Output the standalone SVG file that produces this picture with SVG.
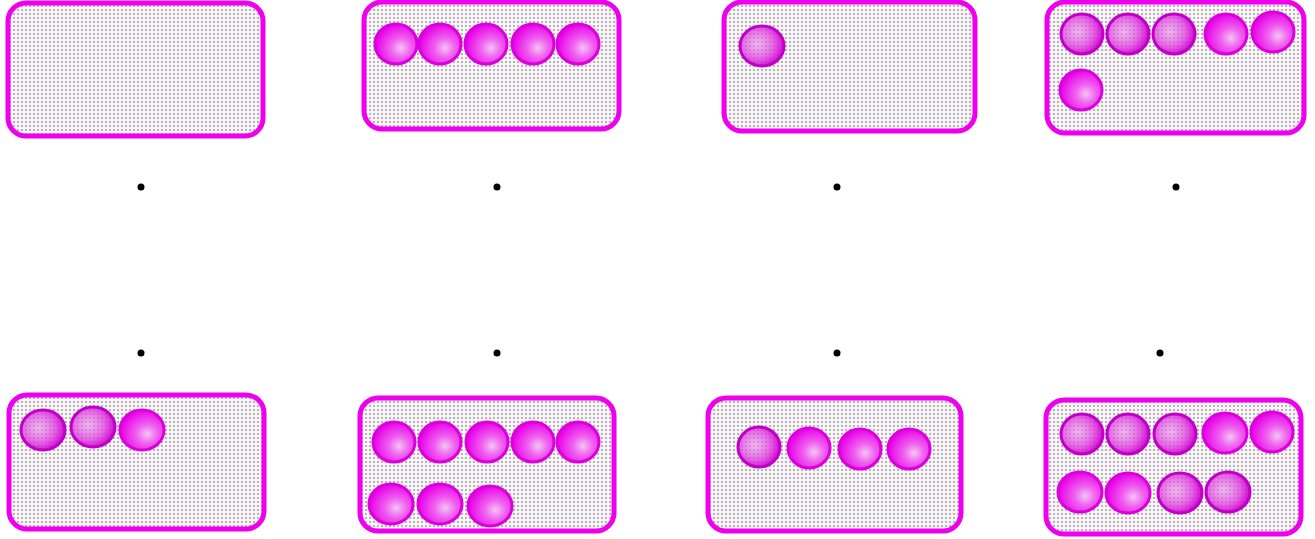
<svg xmlns="http://www.w3.org/2000/svg" width="1315" height="539" viewBox="0 0 1315 539">
<defs>
<pattern id="dots" width="4" height="4" patternUnits="userSpaceOnUse">
<rect width="4" height="4" fill="#f8f4f8"/>
<circle cx="2" cy="2" r="1" fill="#a0a0a0"/>
</pattern>
<radialGradient id="ballg" cx="0.62" cy="0.6" r="0.62">
<stop offset="0" stop-color="#f4c4f4"/>
<stop offset="0.4" stop-color="#f060f0"/>
<stop offset="1" stop-color="#e800e8"/>
</radialGradient>
<radialGradient id="ballh" cx="0.4" cy="0.45" r="0.62">
<stop offset="0" stop-color="#e890e8" stop-opacity="0.6"/>
<stop offset="0.6" stop-color="#e040e0" stop-opacity="0.8"/>
<stop offset="1" stop-color="#d000d0" stop-opacity="1"/>
</radialGradient>
</defs>
<style>
.box{fill:url(#dots);stroke:#ee00ee;stroke-width:5}
.b{fill:url(#ballg);stroke:#dc00dc;stroke-width:3}
.h{fill:url(#ballh);stroke:#c000c8;stroke-width:3}
.d{fill:#000}
</style>
<g id="box1"><rect class="box" x="8" y="3" width="255" height="133" rx="18"/></g>
<g id="box2"><rect class="box" x="364" y="2" width="255" height="127" rx="18"/>
<ellipse class="b" cx="396" cy="44" rx="21" ry="20"/><ellipse class="b" cx="440" cy="44" rx="21" ry="20"/><ellipse class="b" cx="486" cy="44" rx="21" ry="20"/><ellipse class="b" cx="533" cy="44" rx="21" ry="20"/><ellipse class="b" cx="578" cy="44" rx="21" ry="20"/></g>
<g id="box3"><rect class="box" x="724" y="2" width="251" height="129" rx="18"/>
<ellipse class="h" cx="762" cy="46" rx="22" ry="20"/></g>
<g id="box4"><rect class="box" x="1047" y="2" width="257" height="131" rx="18"/>
<ellipse class="h" cx="1082" cy="34" rx="21" ry="20"/><ellipse class="h" cx="1128" cy="34" rx="21" ry="20"/><ellipse class="h" cx="1174" cy="34" rx="21" ry="20"/><ellipse class="b" cx="1226" cy="34" rx="21" ry="20"/><ellipse class="b" cx="1273" cy="32" rx="21" ry="20"/>
<ellipse class="b" cx="1081" cy="90" rx="21" ry="20"/></g>
<g id="dots-row1"><circle class="d" cx="141" cy="187" r="3.5"/><circle class="d" cx="497" cy="187" r="3.5"/><circle class="d" cx="837" cy="187" r="3.5"/><circle class="d" cx="1176" cy="187" r="3.5"/></g>
<g id="dots-row2"><circle class="d" cx="141" cy="353" r="3.5"/><circle class="d" cx="497" cy="353" r="3.5"/><circle class="d" cx="837" cy="353" r="3.5"/><circle class="d" cx="1160" cy="353" r="3.5"/></g>
<g id="box5"><rect class="box" x="9" y="395" width="255" height="134" rx="18"/>
<ellipse class="h" cx="43" cy="430" rx="22" ry="20"/><ellipse class="h" cx="93" cy="427" rx="22" ry="20"/><ellipse class="b" cx="142" cy="430" rx="22" ry="20"/></g>
<g id="box6"><rect class="box" x="360" y="398" width="254" height="133" rx="18"/>
<ellipse class="b" cx="394" cy="442" rx="21" ry="20"/><ellipse class="b" cx="440" cy="442" rx="21" ry="20"/><ellipse class="b" cx="487" cy="442" rx="21" ry="20"/><ellipse class="b" cx="533" cy="442" rx="21" ry="20"/><ellipse class="b" cx="578" cy="442" rx="21" ry="20"/>
<ellipse class="b" cx="391" cy="504" rx="22" ry="20"/><ellipse class="b" cx="440" cy="504" rx="22" ry="20"/><ellipse class="b" cx="490" cy="506" rx="22" ry="20"/></g>
<g id="box7"><rect class="box" x="708" y="398" width="253" height="133" rx="18"/>
<ellipse class="h" cx="759" cy="447" rx="21" ry="20"/><ellipse class="b" cx="809" cy="448" rx="21" ry="20"/><ellipse class="b" cx="860" cy="449" rx="21" ry="20"/><ellipse class="b" cx="909" cy="449" rx="21" ry="20"/></g>
<g id="box8"><rect class="box" x="1046" y="400" width="255" height="134" rx="18"/>
<ellipse class="h" cx="1082" cy="434" rx="21" ry="20"/><ellipse class="h" cx="1128" cy="434" rx="21" ry="20"/><ellipse class="h" cx="1175" cy="434" rx="21" ry="20"/><ellipse class="b" cx="1225" cy="433" rx="22" ry="20"/><ellipse class="b" cx="1272" cy="432" rx="21" ry="20"/>
<ellipse class="b" cx="1080" cy="492" rx="22" ry="20"/><ellipse class="b" cx="1128" cy="493" rx="22" ry="20"/><ellipse class="h" cx="1180" cy="493" rx="22" ry="20"/><ellipse class="h" cx="1228" cy="492" rx="22" ry="20"/></g>
</svg>
